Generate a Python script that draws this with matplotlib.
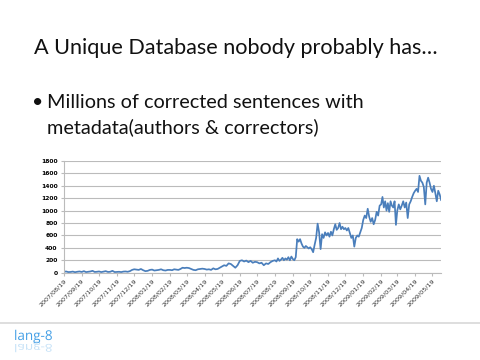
import numpy as np
import pandas as pd
import matplotlib
matplotlib.use("Agg")
import matplotlib.pyplot as plt
from matplotlib.textpath import TextPath
from matplotlib.patches import PathPatch
from matplotlib.font_manager import FontProperties
import matplotlib.transforms as mtransforms

# ---- data: readings per month (month k runs from the k-th tick date to the next) ----
tick_labels = ["2007/08/19", "2007/09/19", "2007/10/19", "2007/11/19", "2007/12/19",
               "2008/01/19", "2008/02/19", "2008/03/19", "2008/04/19", "2008/05/19",
               "2008/06/19", "2008/07/19", "2008/08/19", "2008/09/19", "2008/10/19",
               "2008/11/19", "2008/12/19", "2009/01/19", "2009/02/19", "2009/03/19",
               "2009/04/19", "2009/05/19"]
end_date = "2009-06-03"

monthly_values = [
    [15, 20, 10, 12, 18, 8, 15, 20],
    [12, 25, 10, 15, 20, 30, 12, 15],
    [20, 10, 18, 25, 12, 15, 30, 10],
    [12, 15, 10, 18, 20, 15, 25, 45],
    [55, 50, 45, 60, 40, 25, 30, 45],
    [50, 35, 40, 45, 55, 40, 35, 45],
    [45, 40, 55, 50, 45, 60, 80, 75],
    [80, 75, 60, 45, 40, 55, 60, 65],
    [60, 50, 55, 45, 70, 55, 60, 80],
    [100, 120, 110, 150, 140, 110, 80, 120],
    [190, 200, 180, 195, 170, 190, 160, 175],
    [170, 150, 160, 120, 150, 140, 170, 190],
    [200, 180, 230, 190, 210, 240, 200, 230, 210, 250, 200, 260],
    [220, 200, 250, 540, 500, 540, 470, 420, 400, 430, 410, 390],
    [410, 380, 330, 450, 560, 790, 650, 380, 620, 560, 650, 600],
    [640, 580, 660, 600, 700, 780, 690, 720, 800, 700, 740, 700],
    [720, 680, 720, 640, 560, 600, 420, 560, 600, 580, 650, 720],
    [850, 920, 880, 1030, 900, 820, 880, 780, 850, 980, 920, 1080],
    [1100, 1220, 1050, 1150, 1000, 1120, 980, 1150, 1080, 1050, 1150, 770],
    [1000, 1100, 1020, 1080, 1150, 1050, 1130, 880, 1100, 1150, 1220, 1280],
    [1320, 1350, 1300, 1560, 1480, 1450, 1380, 1100, 1450, 1530, 1450, 1350],
    [1300, 1400, 1280, 1150, 1320, 1260, 1170],
]
y_ticks = [0, 200, 400, 600, 800, 1000, 1200, 1400, 1600, 1800]

title = "A Unique Database nobody probably has…"
bullet_lines = ["Millions of corrected sentences with", "metadata(authors & correctors)"]
logo = "lang-8"

tick_dates = pd.to_datetime(tick_labels, format="%Y/%m/%d")
bounds = list(tick_dates) + [pd.Timestamp(end_date)]
dates, values = [], []
for k, vals in enumerate(monthly_values):
    a, b = bounds[k], bounds[k + 1]
    n = len(vals)
    step = (b - a) / n if k < len(monthly_values) - 1 else (b - a) / (n - 1)
    for i, v in enumerate(vals):
        dates.append(a + step * i)
        values.append(v)

fig = plt.figure(figsize=(4.8, 3.6), dpi=100)
fig.patch.set_facecolor("white")

slide_font = ["Lato", "DejaVu Sans"]
fig.text(0.071, 0.868, title, fontsize=15.6, family=slide_font, va="center", ha="left", color="#111111")
fig.text(0.066, 0.714, "•", fontsize=14, family=slide_font, va="center", ha="left", color="#111111")
fig.text(0.098, 0.714, bullet_lines[0], fontsize=14.3, family=slide_font, va="center", ha="left", color="#111111")
fig.text(0.098, 0.648, bullet_lines[1], fontsize=14.3, family=slide_font, va="center", ha="left", color="#111111")

# chart
ax = fig.add_axes([0.133, 0.2425, 0.786, 0.3105])
ax.plot(dates, values, color="#4A7EBB", linewidth=1.25)
ax.set_ylim(0, 1800)
ax.set_yticks(y_ticks)
ax.set_yticklabels([str(v) for v in y_ticks], fontsize=4.3, fontweight="bold")
ax.set_xlim(tick_dates[0], pd.Timestamp(end_date))
ax.set_xticks(tick_dates)
ax.set_xticklabels(tick_labels, fontsize=4.6, rotation=45, ha="right", rotation_mode="anchor", color="#333333")
ax.grid(axis="y", color="#BBBBBB", linewidth=0.8)
ax.set_axisbelow(True)
for s in ["top", "right"]:
    ax.spines[s].set_visible(False)
for s in ["left", "bottom"]:
    ax.spines[s].set_color("#BBBBBB")
    ax.spines[s].set_linewidth(0.8)
ax.tick_params(axis="x", length=2.5, color="#BBBBBB", pad=1.5)
ax.tick_params(axis="y", length=2.5, color="#BBBBBB", pad=2)

# footer line
fig.add_artist(plt.Line2D([0, 1], [1 - 323 / 360, 1 - 323 / 360], color="#D8D8D8", linewidth=1.2))

# logo with reflection
fp = FontProperties(family=["Open Sans", "DejaVu Sans"])
tp = TextPath((0, 0), logo, size=13.5, prop=fp)
px_x, px_y = 14, 360 - 340
t1 = mtransforms.Affine2D().translate(px_x, px_y)
fig.add_artist(PathPatch(tp, transform=t1, facecolor="#45A0E6", edgecolor="none"))
t2 = mtransforms.Affine2D().scale(1, -0.8).translate(px_x, px_y - 4)
fig.add_artist(PathPatch(tp, transform=t2, facecolor="#45A0E6", edgecolor="none", alpha=0.3))

fig.savefig("out.png", dpi=100, facecolor="white")
